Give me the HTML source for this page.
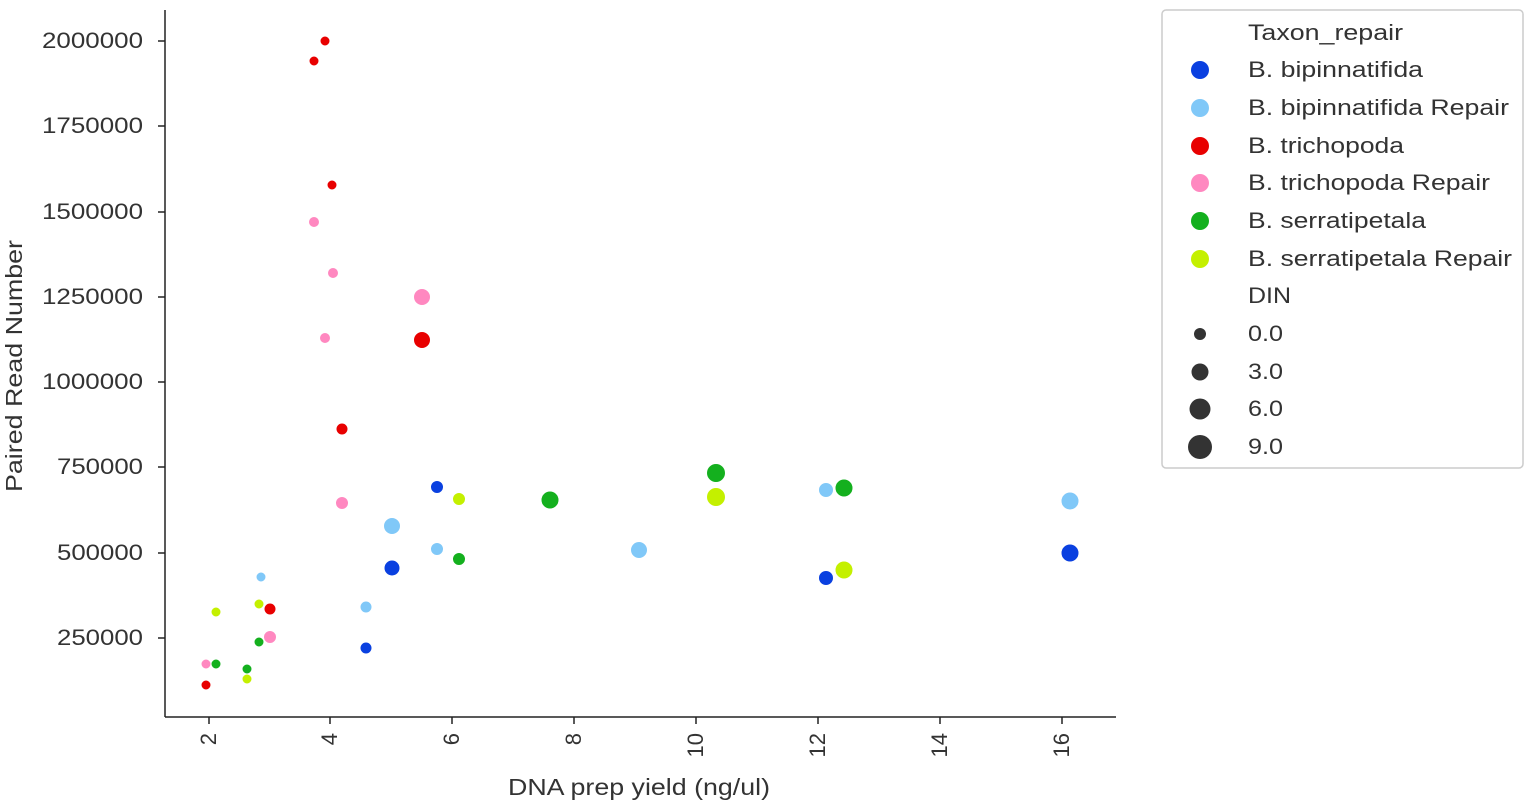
<!DOCTYPE html>
<html><head><meta charset="utf-8"><style>
body{margin:0;background:#fff;}
svg{display:block;font-family:"Liberation Sans",Arial,sans-serif;}
</style></head><body>
<svg width="1535" height="807" xmlns="http://www.w3.org/2000/svg">
<g stroke="#222" stroke-width="1.5" fill="none">
<line x1="165" y1="10" x2="165" y2="717"/>
<line x1="165" y1="717" x2="1116" y2="717"/>
</g>
<g stroke="#222" stroke-width="1.5">
<line x1="158" y1="41" x2="165" y2="41"/><line x1="158" y1="126" x2="165" y2="126"/>
<line x1="158" y1="212" x2="165" y2="212"/><line x1="158" y1="297" x2="165" y2="297"/>
<line x1="158" y1="382" x2="165" y2="382"/><line x1="158" y1="467" x2="165" y2="467"/>
<line x1="158" y1="553" x2="165" y2="553"/><line x1="158" y1="638" x2="165" y2="638"/>
<line x1="209" y1="717" x2="209" y2="724"/><line x1="330" y1="717" x2="330" y2="724"/>
<line x1="452" y1="717" x2="452" y2="724"/><line x1="574" y1="717" x2="574" y2="724"/>
<line x1="696" y1="717" x2="696" y2="724"/><line x1="818" y1="717" x2="818" y2="724"/>
<line x1="940" y1="717" x2="940" y2="724"/><line x1="1062" y1="717" x2="1062" y2="724"/>
</g>
<g font-size="22" fill="#333" lengthAdjust="spacingAndGlyphs">
<text x="42" y="48" textLength="101" lengthAdjust="spacingAndGlyphs">2000000</text><text x="42" y="133" textLength="101" lengthAdjust="spacingAndGlyphs">1750000</text>
<text x="42" y="219" textLength="101" lengthAdjust="spacingAndGlyphs">1500000</text><text x="42" y="304" textLength="101" lengthAdjust="spacingAndGlyphs">1250000</text>
<text x="42" y="389" textLength="101" lengthAdjust="spacingAndGlyphs">1000000</text><text x="57" y="474" textLength="86" lengthAdjust="spacingAndGlyphs">750000</text>
<text x="57" y="560" textLength="86" lengthAdjust="spacingAndGlyphs">500000</text><text x="57" y="645" textLength="86" lengthAdjust="spacingAndGlyphs">250000</text>
</g>
<g font-size="22" fill="#333" text-anchor="end">
<text transform="translate(216,733) rotate(-90)">2</text>
<text transform="translate(337,733) rotate(-90)">4</text>
<text transform="translate(459,733) rotate(-90)">6</text>
<text transform="translate(581,733) rotate(-90)">8</text>
<text transform="translate(703,733) rotate(-90)">10</text>
<text transform="translate(825,733) rotate(-90)">12</text>
<text transform="translate(947,733) rotate(-90)">14</text>
<text transform="translate(1069,733) rotate(-90)">16</text>
</g>
<text x="508" y="795" font-size="23" fill="#333" textLength="262" lengthAdjust="spacingAndGlyphs">DNA prep yield (ng/ul)</text>
<text transform="translate(22,492) rotate(-90)" font-size="23" fill="#333" textLength="252" lengthAdjust="spacingAndGlyphs">Paired Read Number</text>
<g stroke="#fff" stroke-width="1">
<g fill="#e80000">
<circle cx="325" cy="41" r="5"/><circle cx="314" cy="61" r="5"/><circle cx="332" cy="185" r="5"/>
<circle cx="422" cy="340" r="8.5"/><circle cx="342" cy="429" r="6"/><circle cx="270" cy="609" r="6"/><circle cx="206" cy="685" r="5"/>
</g>
<g fill="#ff88c0">
<circle cx="314" cy="222" r="5.5"/><circle cx="333" cy="273" r="5.5"/><circle cx="325" cy="338" r="5.5"/>
<circle cx="422" cy="297" r="8.5"/><circle cx="342" cy="503" r="6.5"/><circle cx="270" cy="637" r="6.5"/><circle cx="206" cy="664" r="5"/>
</g>
<g fill="#0a40e0">
<circle cx="437" cy="487" r="6.5"/><circle cx="392" cy="568" r="8"/><circle cx="366" cy="648" r="6"/>
<circle cx="826" cy="578" r="7.5"/><circle cx="1070" cy="553" r="9"/>
</g>
<g fill="#80c8f8">
<circle cx="261" cy="577" r="5"/><circle cx="392" cy="526" r="8.5"/><circle cx="437" cy="549" r="6.5"/>
<circle cx="366" cy="607" r="6"/><circle cx="639" cy="550" r="8.5"/><circle cx="826" cy="490" r="7.5"/><circle cx="1070" cy="501" r="9"/>
</g>
<g fill="#14b01e">
<circle cx="216" cy="664" r="5"/><circle cx="247" cy="669" r="5"/><circle cx="259" cy="642" r="5"/>
<circle cx="459" cy="559" r="6.5"/><circle cx="550" cy="500" r="9"/><circle cx="716" cy="473" r="9.5"/><circle cx="844" cy="488" r="9"/>
</g>
<g fill="#c4f000">
<circle cx="216" cy="612" r="5"/><circle cx="247" cy="679" r="5"/><circle cx="259" cy="604" r="5"/>
<circle cx="459" cy="499" r="6.5"/><circle cx="716" cy="497" r="9.5"/><circle cx="844" cy="570" r="9"/>
</g>
</g>
<rect x="1162" y="10" width="361" height="458" rx="4" fill="#fff" stroke="#ccc" stroke-width="1.5"/>
<g font-size="22" fill="#333">
<text x="1248" y="40" textLength="155" lengthAdjust="spacingAndGlyphs">Taxon_repair</text>
<text x="1248" y="77" textLength="175" lengthAdjust="spacingAndGlyphs">B. bipinnatifida</text>
<text x="1248" y="115" textLength="261" lengthAdjust="spacingAndGlyphs">B. bipinnatifida Repair</text>
<text x="1248" y="153" textLength="156" lengthAdjust="spacingAndGlyphs">B. trichopoda</text>
<text x="1248" y="190" textLength="242" lengthAdjust="spacingAndGlyphs">B. trichopoda Repair</text>
<text x="1248" y="228" textLength="178" lengthAdjust="spacingAndGlyphs">B. serratipetala</text>
<text x="1248" y="266" textLength="264" lengthAdjust="spacingAndGlyphs">B. serratipetala Repair</text>
<text x="1248" y="303" textLength="43" lengthAdjust="spacingAndGlyphs">DIN</text>
<text x="1248" y="341" textLength="35" lengthAdjust="spacingAndGlyphs">0.0</text>
<text x="1248" y="379" textLength="35" lengthAdjust="spacingAndGlyphs">3.0</text>
<text x="1248" y="416" textLength="35" lengthAdjust="spacingAndGlyphs">6.0</text>
<text x="1248" y="454" textLength="35" lengthAdjust="spacingAndGlyphs">9.0</text>
</g>
<circle cx="1200" cy="70" r="9" fill="#0a40e0"/>
<circle cx="1200" cy="108" r="9" fill="#80c8f8"/>
<circle cx="1200" cy="146" r="9" fill="#e80000"/>
<circle cx="1200" cy="183" r="9" fill="#ff88c0"/>
<circle cx="1200" cy="221" r="9" fill="#14b01e"/>
<circle cx="1200" cy="259" r="9" fill="#c4f000"/>
<circle cx="1200" cy="334" r="6" fill="#333"/>
<circle cx="1200" cy="372" r="8.5" fill="#333"/>
<circle cx="1200" cy="409" r="10.5" fill="#333"/>
<circle cx="1200" cy="447" r="12" fill="#333"/>
</svg>
</body></html>
